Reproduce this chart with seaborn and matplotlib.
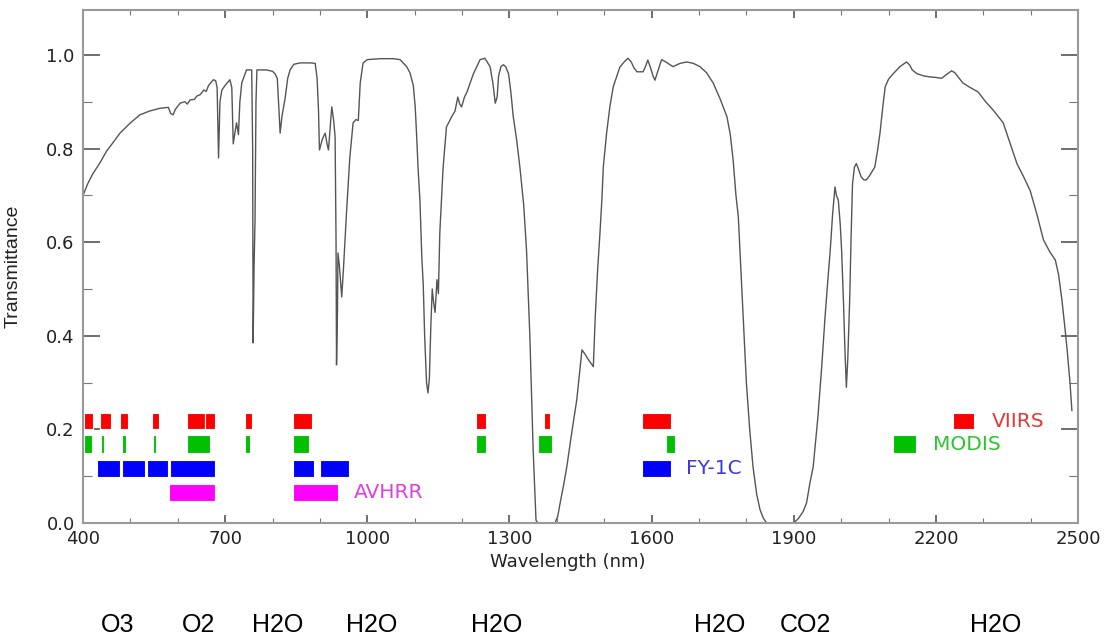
import numpy as np
import pandas as pd
import seaborn as sns
from matplotlib import pyplot as plt
from matplotlib.ticker import MultipleLocator
import matplotlib.transforms as mtransforms

# atmospheric transmittance curve
wavelength = [400, 410, 420, 436, 450, 465, 478, 500, 520, 540, 562, 580, 585, 590, 595, 605, 615, 620, 626, 635,
              640, 647, 655, 660, 665, 675, 680, 683, 686, 689, 693, 700, 710, 714, 717, 720, 724, 728, 731, 735,
              745, 756, 758, 759, 761, 763, 765, 767, 787, 800, 805, 810, 816, 820, 826, 832, 837, 845, 858, 880,
              890, 894, 897, 899, 905, 911, 915, 918, 922, 925, 929, 932, 934, 935, 937, 938, 941, 946, 950, 956,
              963, 970, 976, 981, 985, 991, 1000, 1027, 1055, 1069, 1083, 1090, 1097, 1101, 1104, 1107, 1111, 1115,
              1118, 1121, 1125, 1128, 1131, 1134, 1137, 1140, 1143, 1147, 1150, 1153, 1157, 1160, 1167, 1178, 1185,
              1191, 1195, 1199, 1205, 1210, 1217, 1224, 1238, 1248, 1259, 1265, 1270, 1274, 1277, 1282, 1287, 1292,
              1298, 1303, 1308, 1315, 1322, 1330, 1336, 1343, 1350, 1356, 1360, 1396, 1402, 1407, 1414, 1421, 1431,
              1442, 1453, 1460, 1466, 1477, 1481, 1486, 1491, 1495, 1498, 1505, 1512, 1519, 1533, 1542, 1550, 1557,
              1563, 1569, 1582, 1587, 1592, 1597, 1603, 1607, 1613, 1621, 1630, 1645, 1660, 1674, 1688, 1702, 1716,
              1730, 1745, 1759, 1766, 1772, 1778, 1783, 1790, 1800, 1807, 1814, 1822, 1829, 1836, 1843, 1900, 1910,
              1920, 1927, 1934, 1941, 1951, 1959, 1966, 1972, 1977, 1982, 1987, 1990, 1994, 1998, 2001, 2005, 2008,
              2011, 2014, 2018, 2021, 2024, 2028, 2032, 2037, 2042, 2048, 2053, 2060, 2067, 2071, 2077, 2082, 2088,
              2093, 2100, 2110, 2124, 2138, 2145, 2150, 2160, 2175, 2188, 2200, 2212, 2222, 2233, 2240, 2257, 2273,
              2289, 2305, 2321, 2342, 2357, 2371, 2385, 2399, 2413, 2427, 2440, 2452, 2459, 2466, 2472, 2477, 2483,
              2487]
transmittance = [0.700, 0.725, 0.745, 0.770, 0.795, 0.815, 0.833, 0.855, 0.872, 0.880, 0.886, 0.888, 0.875, 0.872,
                 0.884, 0.897, 0.900, 0.895, 0.904, 0.905, 0.912, 0.915, 0.925, 0.922, 0.935, 0.947, 0.945, 0.930,
                 0.780, 0.900, 0.925, 0.935, 0.947, 0.930, 0.810, 0.830, 0.855, 0.830, 0.900, 0.940, 0.968, 0.968,
                 0.800, 0.385, 0.550, 0.647, 0.900, 0.968, 0.968, 0.965, 0.960, 0.950, 0.833, 0.870, 0.904, 0.950,
                 0.968, 0.980, 0.983, 0.983, 0.982, 0.950, 0.880, 0.797, 0.820, 0.833, 0.810, 0.797, 0.850, 0.889,
                 0.860, 0.825, 0.600, 0.338, 0.450, 0.577, 0.550, 0.483, 0.550, 0.662, 0.780, 0.855, 0.862, 0.860,
                 0.940, 0.983, 0.990, 0.992, 0.992, 0.990, 0.975, 0.962, 0.935, 0.890, 0.830, 0.760, 0.690, 0.568,
                 0.510, 0.400, 0.300, 0.278, 0.310, 0.420, 0.500, 0.470, 0.450, 0.520, 0.490, 0.620, 0.700, 0.760,
                 0.846, 0.868, 0.880, 0.910, 0.895, 0.889, 0.910, 0.920, 0.940, 0.960, 0.990, 0.993, 0.975, 0.940,
                 0.897, 0.910, 0.955, 0.975, 0.979, 0.975, 0.960, 0.920, 0.868, 0.820, 0.760, 0.680, 0.583, 0.400,
                 0.156, 0.006, 0.000, 0.000, 0.015, 0.043, 0.080, 0.120, 0.190, 0.263, 0.370, 0.360, 0.350, 0.334,
                 0.440, 0.540, 0.620, 0.690, 0.760, 0.833, 0.890, 0.932, 0.974, 0.985, 0.993, 0.985, 0.972, 0.964,
                 0.964, 0.975, 0.989, 0.975, 0.955, 0.946, 0.965, 0.990, 0.985, 0.975, 0.982, 0.985, 0.982, 0.975,
                 0.962, 0.940, 0.905, 0.868, 0.830, 0.776, 0.700, 0.654, 0.510, 0.300, 0.200, 0.120, 0.060, 0.028,
                 0.010, 0.000, 0.000, 0.010, 0.025, 0.043, 0.085, 0.120, 0.227, 0.334, 0.440, 0.520, 0.583, 0.660,
                 0.718, 0.700, 0.690, 0.640, 0.583, 0.470, 0.370, 0.290, 0.350, 0.476, 0.610, 0.725, 0.760, 0.768,
                 0.755, 0.740, 0.733, 0.733, 0.742, 0.754, 0.760, 0.797, 0.833, 0.890, 0.932, 0.948, 0.960, 0.975,
                 0.985, 0.978, 0.968, 0.960, 0.955, 0.953, 0.952, 0.950, 0.958, 0.966, 0.962, 0.940, 0.930, 0.921,
                 0.900, 0.882, 0.855, 0.810, 0.768, 0.740, 0.710, 0.660, 0.605, 0.580, 0.562, 0.530, 0.476, 0.420,
                 0.370, 0.300, 0.240]

# sensor bands (start nm, end nm)
viirs_bands = [(402, 421), (436, 460), (478, 494), (545, 561), (619, 657), (657, 679), (742, 756), (844, 884),
               (1229, 1250), (1372, 1386), (1580, 1641)]
modis_bands = [(402, 418), (437, 444), (483, 490), (547, 554), (619, 668), (742, 752), (844, 876), (1229, 1250),
               (1361, 1389), (1630, 1649)]
fy1c_bands = [(429, 478), (482, 531), (534, 580), (584, 679), (844, 888), (900, 962), (1580, 1641)]
avhrr_bands = [(582, 679), (844, 938)]

# absorbing gases written under the axis
gas_names = ["O3", "O2", "H2O", "H2O", "H2O", "H2O", "CO2", "H2O"]
gas_wl = [472, 643, 810, 1010, 1272, 1744, 1924, 2327]

sns.set_style("white")
plt.rcParams['font.family'] = ['DejaVu Sans']
narrow = ['Liberation Sans', 'DejaVu Sans']

fig = plt.figure(figsize=(11.13, 6.41), dpi=100)
ax = fig.add_axes([0.0746, 0.184, 0.894, 0.8004])

df = pd.DataFrame({"wl": wavelength, "T": transmittance})
sns.lineplot(data=df, x="wl", y="T", ax=ax, color="#555555", linewidth=1.0, estimator=None)

# rows of bands: (bands, color, bottom, height)
rows = [
    (viirs_bands, "#ff0000", 0.200, 0.036),
    (modis_bands, "#00c000", 0.150, 0.038),
    (fy1c_bands, "#0000ff", 0.098, 0.037),
    (avhrr_bands, "#ff00ff", 0.047, 0.036),
]
for bands, col, y0, h in rows:
    starts = [b[0] for b in bands]
    widths = [b[1] - b[0] for b in bands]
    ax.bar(starts, [h] * len(bands), width=widths, bottom=y0, align="edge",
           color=col, edgecolor="white", linewidth=0.8)

# legend squares
ax.bar([2237], [0.036], width=[44], bottom=0.200, align="edge", color="#ff0000", edgecolor="white", linewidth=0.8)
ax.bar([2110], [0.038], width=[48], bottom=0.150, align="edge", color="#00c000", edgecolor="white", linewidth=0.8)

lbl = dict(fontsize=14.5, va="center", ha="left")
ax.text(2318, 0.216, "VIIRS", color="#e03a3a", **lbl)
ax.text(2194, 0.167, "MODIS", color="#2ec42e", **lbl)
ax.text(1673, 0.116, "FY-1C", color="#3a3ae0", **lbl)
ax.text(972, 0.066, "AVHRR", color="#e040e0", **lbl)

trans = mtransforms.blended_transform_factory(ax.transData, ax.transAxes)
for name, w in zip(gas_names, gas_wl):
    ax.text(w, -0.199, name, transform=trans, ha="center", va="center",
            fontsize=18, family=narrow, color="black")

ax.set_xlim(400, 2500)
ax.set_ylim(0, 1.096)
ax.set_xticks([400, 700, 1000, 1300, 1600, 1900, 2200, 2500])
ax.set_yticks([0.0, 0.2, 0.4, 0.6, 0.8, 1.0])
ax.set_yticklabels(["0.0", "0.2", "0.4", "0.6", "0.8", "1.0"])
ax.xaxis.set_minor_locator(MultipleLocator(100))
ax.yaxis.set_minor_locator(MultipleLocator(0.1))
ax.tick_params(axis="x", which="major", direction="in", length=6, width=1.2, top=True, bottom=True,
               color="#555555", labelsize=13, pad=5, labelcolor="#222222")
ax.tick_params(axis="x", which="minor", direction="in", length=3.5, width=0.8, top=True, bottom=True,
               color="#777777")
ax.tick_params(axis="y", which="major", direction="in", length=12, width=1.2, left=True, right=True,
               color="#555555", labelsize=13, pad=6, labelcolor="#222222")
ax.tick_params(axis="y", which="minor", direction="in", length=6.5, width=0.8, left=True, right=True,
               color="#777777")
for s in ax.spines.values():
    s.set_color("#999999")
    s.set_linewidth(1.5)
    s.set_visible(True)

ax.set_xlabel("Wavelength (nm)", fontsize=13, color="#222222", labelpad=1)
ax.xaxis.set_label_coords(0.487, -0.058)
ax.set_ylabel("Transmittance", fontsize=14, family=narrow, color="#222222")
ax.yaxis.set_label_coords(-0.062, 0.5)

fig.savefig("out.png", dpi=100)
